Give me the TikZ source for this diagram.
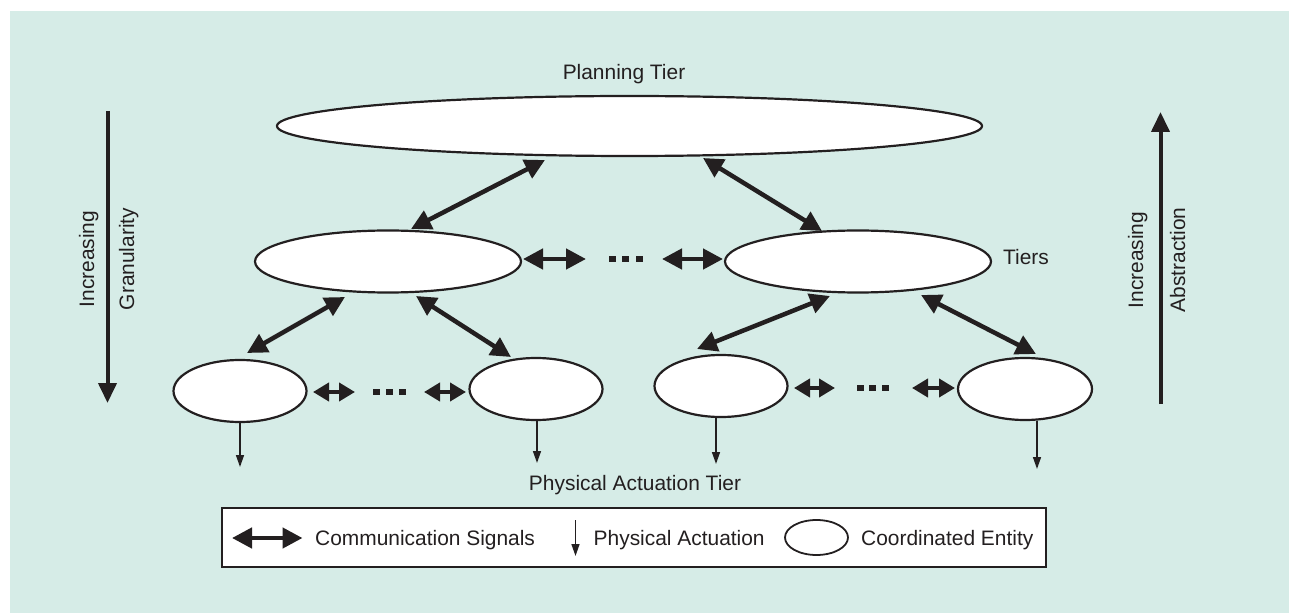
\documentclass[tikz,border=0pt]{standalone}
\usepackage{fontspec}
\setmainfont{Liberation Sans}
\usetikzlibrary{arrows.meta,shapes.geometric}
\definecolor{bgteal}{RGB}{214,236,231}
\definecolor{ink}{RGB}{35,31,32}
\begin{document}
\begin{tikzpicture}[x=1bp,y=-1bp,
  ent/.style={ellipse,draw=ink,line width=2.2bp,fill=white,inner sep=0pt},
  comm/.style={draw=ink,line width=4.5bp,{Triangle[length=20bp,width=20bp]}-{Triangle[length=20bp,width=20bp]}},
  commsm/.style={draw=ink,line width=4.5bp,{Triangle[length=16bp,width=18bp]}-{Triangle[length=16bp,width=18bp]}},
  act/.style={draw=ink,line width=1.5bp,-{Triangle[length=12bp,width=8bp]}},
  lbl/.style={text=ink,font=\fontsize{21}{25}\selectfont,inner sep=0pt},
  sq/.style={rectangle,fill=ink,inner sep=0pt,minimum width=7bp,minimum height=6bp},
  sidearrow/.style={draw=ink,line width=4bp,-{Triangle[length=20bp,width=18bp]}}
]
\useasboundingbox (0,0) rectangle (1289,613);
\fill[white] (0,0) rectangle (1289,613);
\fill[bgteal] (10,11) rectangle (1289,613);

% entities
\node[ent,minimum width=705bp,minimum height=60bp] (top) at (629.5,126) {};
\node[ent,minimum width=266bp,minimum height=62bp] (ml) at (388,261.5) {};
\node[ent,minimum width=266bp,minimum height=62bp] (mr) at (858,261.5) {};
\node[ent,minimum width=133bp,minimum height=62bp] (b1) at (240,391) {};
\node[ent,minimum width=133bp,minimum height=62bp] (b2) at (536,389) {};
\node[ent,minimum width=133bp,minimum height=62bp] (b3) at (721,386) {};
\node[ent,minimum width=134bp,minimum height=62bp] (b4) at (1025,389) {};

% labels
\node[lbl,anchor=base] (plan) at (624,79.5) {Planning Tier};
\node[lbl,anchor=base west] (tiers) at (1003,265) {Tiers};
\node[lbl,anchor=base] (phys) at (635,490) {Physical Actuation Tier};

% diagonal communication arrows
\coordinate (a1s) at (545,160); \coordinate (a1e) at (411,229);
\coordinate (a2s) at (703,158); \coordinate (a2e) at (822,231);
\coordinate (a3s) at (345,297); \coordinate (a3e) at (247,353);
\coordinate (a4s) at (416,296); \coordinate (a4e) at (511,357);
\coordinate (a5s) at (830,296); \coordinate (a5e) at (697,349);
\coordinate (a6s) at (921,295); \coordinate (a6e) at (1036,354);
\draw[comm] (a1s) -- (a1e);
\draw[comm] (a2s) -- (a2e);
\draw[comm] (a3s) -- (a3e);
\draw[comm] (a4s) -- (a4e);
\draw[comm] (a5s) -- (a5e);
\draw[comm] (a6s) -- (a6e);

% horizontal arrows, middle tier
\coordinate (h1s) at (523,259); \coordinate (h1e) at (586,259);
\coordinate (h2s) at (662,259); \coordinate (h2e) at (723,259);
\draw[comm] (h1s) -- (h1e);
\draw[comm] (h2s) -- (h2e);
\node[sq] (dm1) at (612,259) {};
\node[sq] (dm2) at (625.5,259) {};
\node[sq] (dm3) at (639,259) {};

% horizontal arrows, bottom tier
\coordinate (h3s) at (313,392); \coordinate (h3e) at (355,392);
\coordinate (h4s) at (424,392); \coordinate (h4e) at (466,392);
\draw[commsm] (h3s) -- (h3e);
\draw[commsm] (h4s) -- (h4e);
\node[sq] (dl1) at (376,392) {};
\node[sq] (dl2) at (389,392) {};
\node[sq] (dl3) at (402,392) {};
\coordinate (h5s) at (794,388); \coordinate (h5e) at (835,388);
\coordinate (h6s) at (912,388); \coordinate (h6e) at (955,388);
\draw[commsm] (h5s) -- (h5e);
\draw[commsm] (h6s) -- (h6e);
\node[sq] (dr1) at (860,388) {};
\node[sq] (dr2) at (872.5,388) {};
\node[sq] (dr3) at (885,388) {};

% actuation arrows
\coordinate (p1) at (240,467);
\coordinate (p2) at (537,463);
\coordinate (p3) at (716,464);
\coordinate (p4) at (1037,469);
\draw[act] (b1.south) -- (p1);
\draw[act] (537,419) -- (p2);
\draw[act] (716,417) -- (p3);
\draw[act] (1037,421) -- (p4);

% side arrows
\coordinate (gl0) at (107.5,111); \coordinate (gl1) at (107.5,403);
\draw[sidearrow] (gl0) -- (gl1);
\node[lbl,rotate=90,anchor=base] (inc1) at (94,259) {Increasing};
\node[lbl,rotate=90,anchor=base] (gran) at (134,259) {Granularity};
\coordinate (ab0) at (1160.5,404); \coordinate (ab1) at (1160.5,112);
\draw[sidearrow] (ab0) -- (ab1);
\node[lbl,rotate=90,anchor=base] (inc2) at (1143,260) {Increasing};
\node[lbl,rotate=90,anchor=base] (abst) at (1185,260) {Abstraction};

% legend
\node[draw=ink,line width=1.5bp,fill=white,minimum width=824bp,minimum height=59bp,inner sep=0pt] (legend) at (634,537.5) {};
\coordinate (lg0) at (232,538); \coordinate (lg1) at (302.5,538);
\draw[draw=ink,line width=4.5bp,{Triangle[length=20bp,width=20bp]}-{Triangle[length=20bp,width=20bp]}] (lg0) -- (lg1);
\node[lbl,anchor=base west] (lc) at (315,545.5) {Communication Signals};
\coordinate (la0) at (575.5,520); \coordinate (la1) at (575.5,556);
\draw[act] (la0) -- (la1);
\node[lbl,anchor=base west] (lpa) at (593.5,545.5) {Physical Actuation};
\node[ent,line width=1.8bp,minimum width=63bp,minimum height=35bp] (le) at (816.5,537.5) {};
\node[lbl,anchor=base west] (lce) at (861,545.5) {Coordinated Entity};
\end{tikzpicture}
\end{document}
